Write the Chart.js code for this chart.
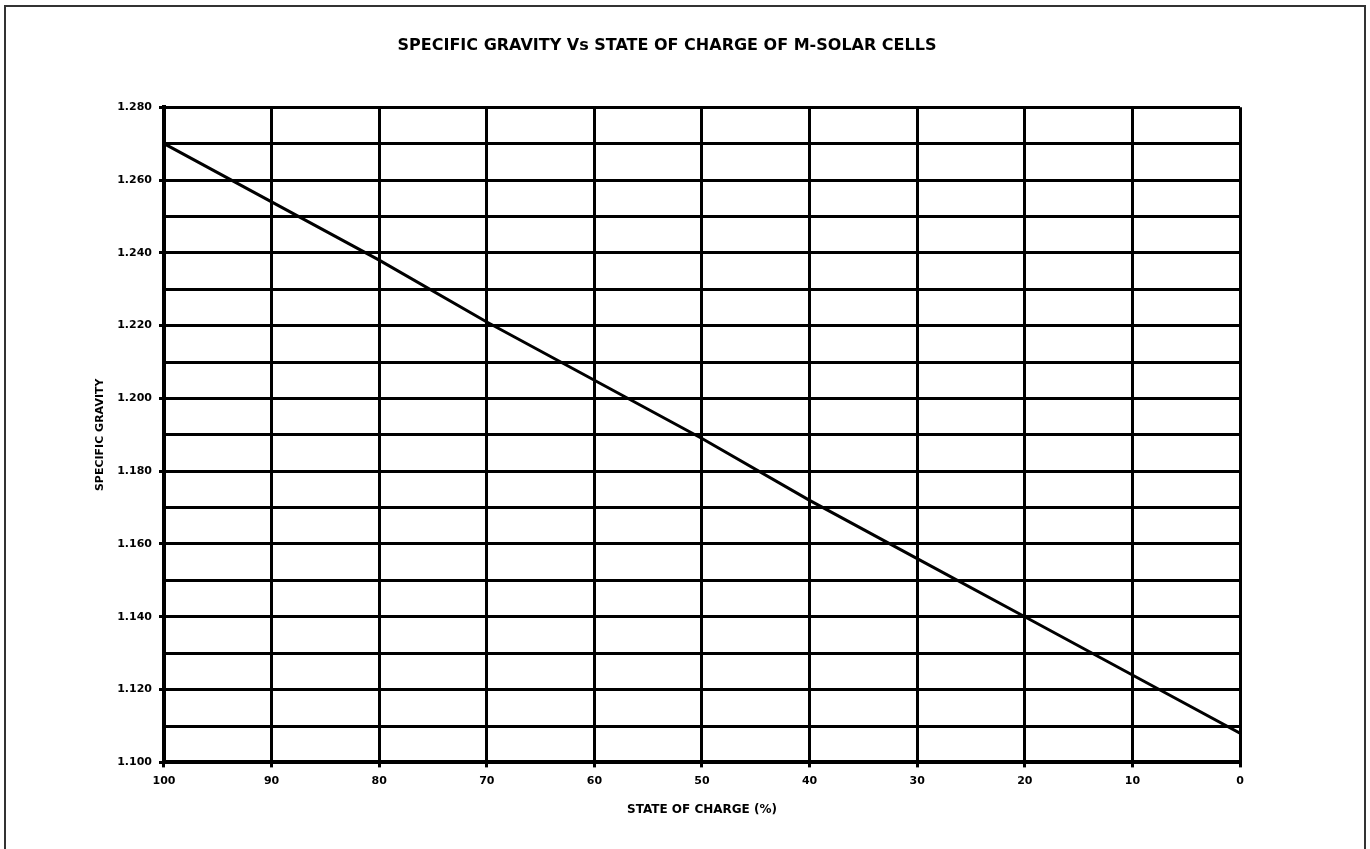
<!DOCTYPE html>
<html>
<head>
<meta charset="utf-8">
<script src="https://cdn.jsdelivr.net/npm/chart.js@4.4.0/dist/chart.umd.min.js"></script>
<style>
  html, body { margin: 0; padding: 0; background: #fff; overflow: hidden; }
  #frame { position: absolute; left: 4px; top: 5px; width: 1358px; height: 900px;
           border: 2px solid #333; border-bottom: none; }
  #wrap { position: absolute; left: 0; top: 0; width: 1370px; height: 849px; }
</style>
</head>
<body>
<div id="frame"></div>
<div id="wrap"><canvas id="sg_chart" width="1370" height="849"></canvas></div>
<script>
// state of charge (%) and specific gravity
const stateOfCharge = [100, 90, 80, 70, 60, 50, 40, 30, 20, 10, 0];
const specificGravity = [1.270, 1.254, 1.238, 1.221, 1.205, 1.189, 1.172, 1.156, 1.140, 1.124, 1.108];

const yMin = 1.100, yMax = 1.280, yStep = 0.010;
const xMin = 0, xMax = 100, xStep = 10;

const fontFam = '"DejaVu Sans", Arial, sans-serif';

// labelled y ticks are every 0.020
function isMajor(v) {
    return Math.round(v * 1000) % 20 === 0;
}

const points = stateOfCharge.map((s, i) => ({ x: s, y: specificGravity[i] }));

new Chart(document.getElementById('sg_chart'), {
    type: 'scatter',
    data: {
        datasets: [{
            data: points,
            showLine: true,
            borderColor: '#000',
            borderWidth: 3,
            pointRadius: 0,
            tension: 0
        }]
    },
    options: {
        responsive: false,
        animation: false,
        layout: { padding: { left: 94, right: 130, top: 36, bottom: 32 } },
        plugins: {
            legend: { display: false },
            tooltip: { enabled: false },
            title: {
                display: true,
                text: 'SPECIFIC GRAVITY Vs STATE OF CHARGE OF M-SOLAR CELLS',
                color: '#000',
                font: { family: fontFam, size: 16, weight: 'bold' },
                padding: { top: 0, bottom: 52 }
            }
        },
        scales: {
            x: {
                type: 'linear',
                reverse: true,
                min: xMin,
                max: xMax,
                border: { color: '#000', width: 4 },
                grid: { color: '#000', lineWidth: 3, tickLength: 5, tickColor: '#000' },
                ticks: {
                    stepSize: xStep,
                    color: '#000',
                    padding: 7,
                    maxRotation: 0,
                    font: { family: fontFam, size: 11, weight: 'bold' }
                },
                title: {
                    display: true,
                    text: 'STATE OF CHARGE (%)',
                    color: '#000',
                    font: { family: fontFam, size: 12, weight: 'bold' },
                    padding: { top: 8, bottom: 0 }
                }
            },
            y: {
                min: yMin,
                max: yMax,
                border: { color: '#000', width: 4 },
                grid: {
                    color: '#000',
                    lineWidth: 3,
                    tickLength: 5,
                    tickColor: (ctx) => (ctx.tick && isMajor(ctx.tick.value)) ? '#000' : 'rgba(0,0,0,0)'
                },
                ticks: {
                    stepSize: yStep,
                    color: '#000',
                    padding: 7,
                    autoSkip: false,
                    font: { family: fontFam, size: 11, weight: 'bold' },
                    callback: (v) => isMajor(v) ? v.toFixed(3) : ''
                },
                title: {
                    display: true,
                    text: 'SPECIFIC GRAVITY',
                    color: '#000',
                    font: { family: fontFam, size: 11, weight: 'bold' },
                    padding: { top: 0, bottom: 3 }
                }
            }
        }
    }
});
</script>
</body>
</html>
